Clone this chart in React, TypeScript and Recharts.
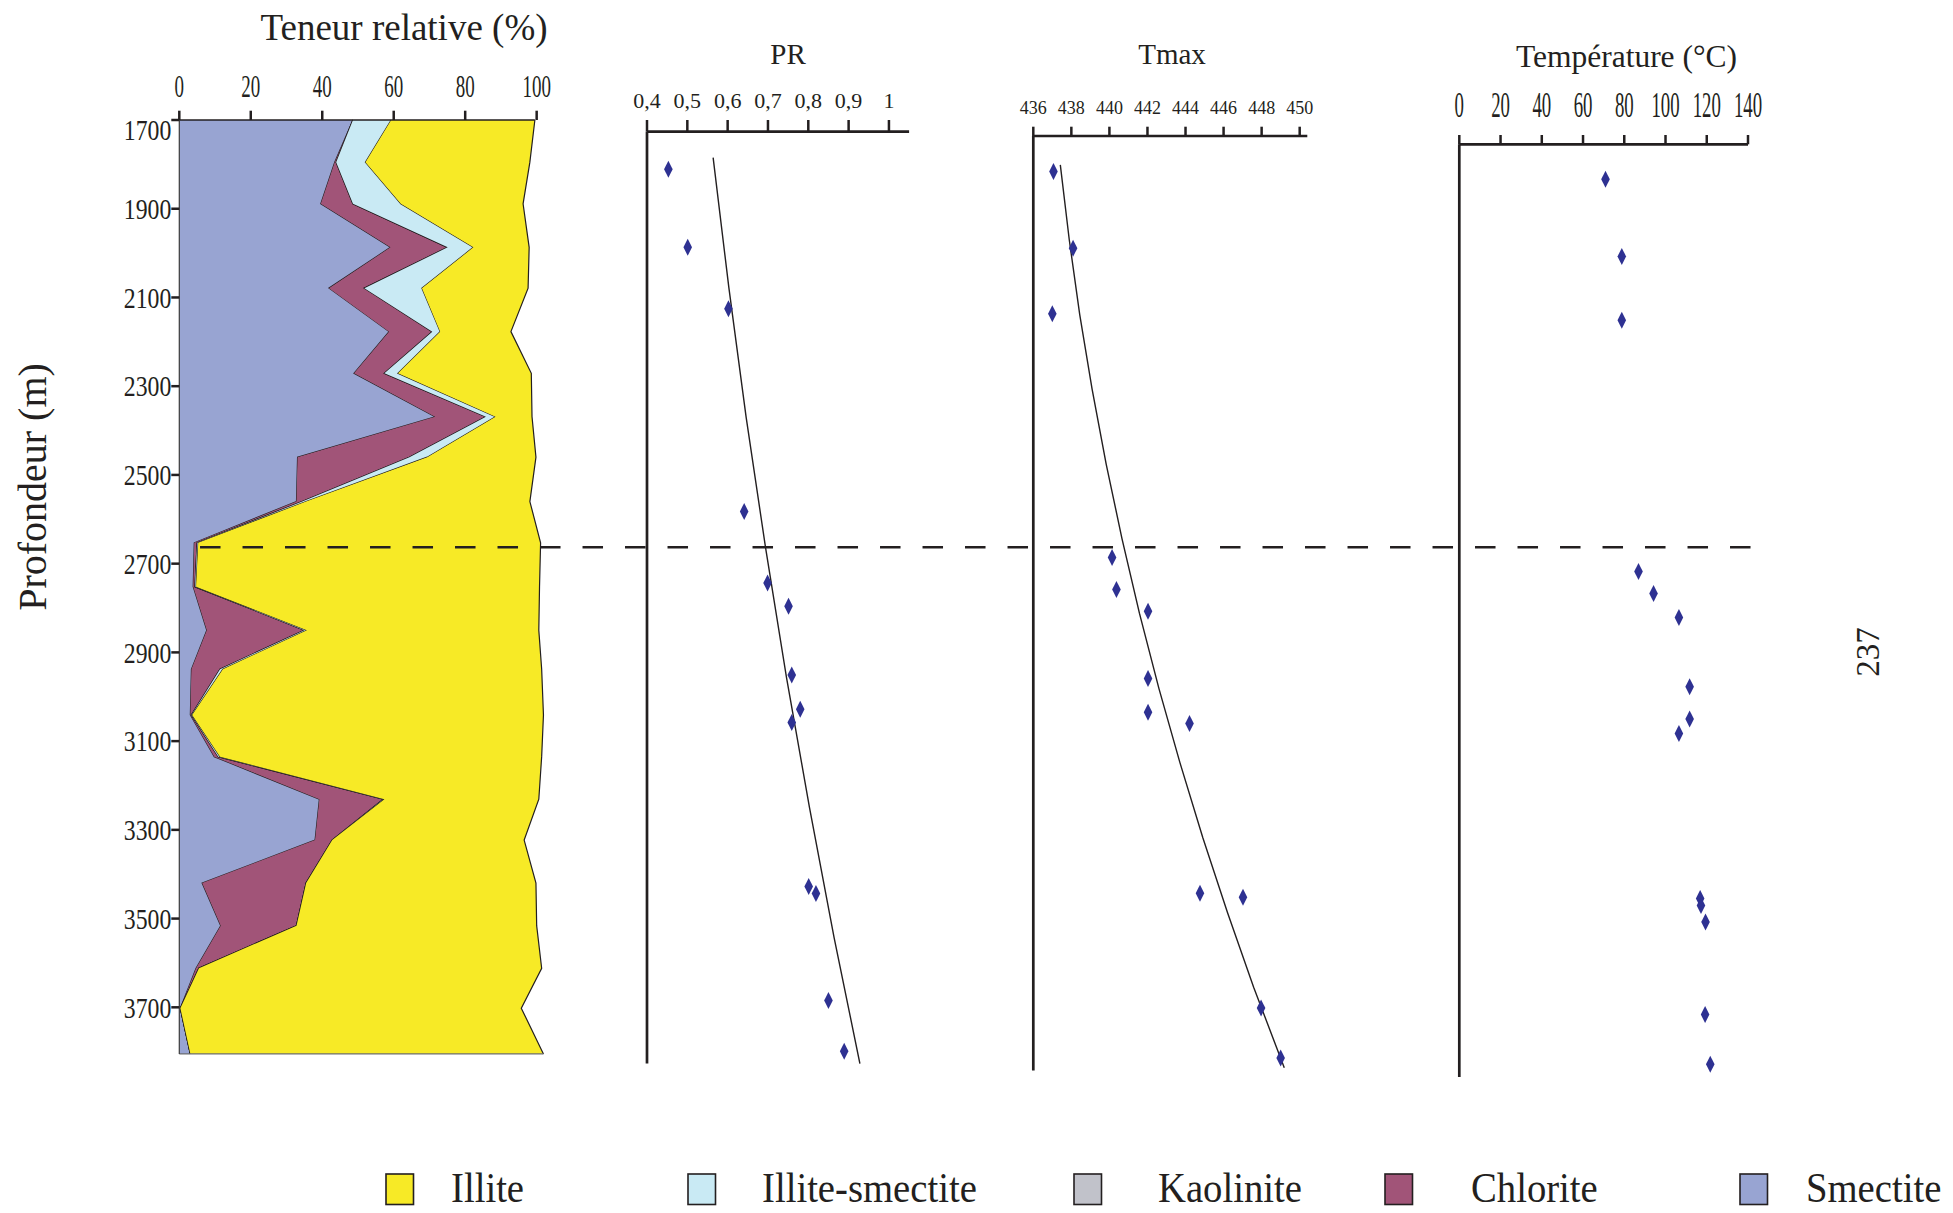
import React from 'react';
import {
  AreaChart,
  Area,
  ScatterChart,
  Scatter,
  XAxis,
  YAxis,
  ReferenceLine,
  Customized,
} from 'recharts';

const SERIF = '"Liberation Serif", "Times New Roman", serif';
const INK = '#231F20';
const MARK = '#2E3192';

// clay minerals, relative % at each sample depth (m)
const CLAY_DEPTHS = [1700, 1795, 1889, 1987, 2079, 2177, 2271, 2369, 2460, 2560, 2653, 2752, 2850, 2938, 3041, 3135, 3231, 3323, 3420, 3516, 3612, 3702, 3805];
const SMECTITE = [48.6, 43.5, 39.6, 59.1, 41.9, 58.7, 48.9, 71.6, 33.1, 32.8, 4.2, 3.9, 7.7, 3.4, 3.1, 9.8, 39.2, 38.0, 6.4, 11.6, 4.7, 0.3, 3.1];
const CHLORITE = [0, 0.4, 9.0, 16.0, 9.9, 12.1, 8.5, 14.2, 31.3, 1.6, 0.8, 0.5, 27.3, 8.0, 0.3, 1.1, 17.9, 4.8, 29.1, 21.2, 0.8, 0, 0];
const KAOLINITE = [0, 0, 0, 0, 0, 0, 0, 0, 0, 0, 0, 0, 0, 0, 0, 0, 0, 0, 0, 0, 0, 0, 0];
const ILLITE_SMECTITE = [10.7, 8.2, 13.4, 7.2, 16.1, 2.2, 3.8, 2.7, 5.0, 1.1, 0.3, 0.3, 0.7, 0.8, 0.2, 0.5, 0.3, 0, 0, 0, 0, 0, 0];
const ILLITE = [40.2, 46.0, 34.2, 15.6, 29.7, 19.8, 37.3, 10.2, 30.4, 62.6, 95.8, 96.1, 64.9, 89.2, 98.3, 90.0, 43.2, 53.7, 64.3, 67.2, 95.9, 95.4, 98.8];

// vitrinite reflectance PR
const PR_DEPTHS = [1778, 1955, 2095, 2555, 2717, 2770, 2926, 3004, 3034, 3406, 3422, 3665, 3780];
const PR_VALUES = [0.453, 0.501, 0.602, 0.641, 0.699, 0.751, 0.759, 0.78, 0.759, 0.801, 0.819, 0.85, 0.889];
const PR_FIT_DEPTHS = [1752, 2047, 2342, 2637, 2932, 3227, 3522, 3808];
const PR_FIT_VALUES = [0.564, 0.603, 0.646, 0.694, 0.746, 0.803, 0.864, 0.928];

// Rock-Eval Tmax
const TMAX_DEPTHS = [1780, 1953, 2101, 2651, 2723, 2772, 2924, 3000, 3025, 3408, 3417, 3667, 3780];
const TMAX_VALUES = [437.06, 438.09, 437.0, 440.14, 440.37, 442.03, 442.03, 442.03, 444.21, 444.76, 447.02, 447.97, 449.0];
const TMAX_FIT_DEPTHS = [1765, 1934, 2103, 2271, 2440, 2608, 2777, 2946, 3114, 3283, 3451, 3620, 3802];
const TMAX_FIT_VALUES = [437.42, 437.89, 438.44, 439.09, 439.83, 440.66, 441.58, 442.6, 443.71, 444.91, 446.2, 447.58, 449.19];

// temperature (°C)
const TEMP_DEPTHS = [1779, 1953, 2097, 2664, 2714, 2768, 2924, 2997, 3030, 3402, 3418, 3455, 3664, 3776];
const TEMP_VALUES = [70.9, 78.8, 78.8, 86.9, 94.2, 106.5, 111.7, 111.7, 106.5, 116.8, 117.2, 119.4, 119.2, 121.7];

const BOUNDARY_DEPTH = 2663;

const PCT_TICKS = [0, 20, 40, 60, 80, 100];
const DEPTH_TICKS = [1700, 1900, 2100, 2300, 2500, 2700, 2900, 3100, 3300, 3500, 3700];
const PANEL_DEPTH_TICKS = [1900, 2100, 2300, 2500, 2700, 2900, 3100, 3300, 3500, 3700];
const TEMP_DEPTH_TICKS = [1700, 1900, 2100, 2300, 2500, 2700, 2900, 3100, 3300, 3500, 3700, 3900];
const PR_TICKS = [0.4, 0.5, 0.6, 0.7, 0.8, 0.9, 1];
const TMAX_TICKS = [436, 438, 440, 442, 444, 446, 448, 450];
const TEMP_TICKS = [0, 20, 40, 60, 80, 100, 120, 140];

const CLAY_SERIES = [
  { key: 'smectite', name: 'Smectite', color: '#98A4D2', values: SMECTITE },
  { key: 'chlorite', name: 'Chlorite', color: '#A15478', values: CHLORITE },
  { key: 'kaolinite', name: 'Kaolinite', color: '#C1C2CA', values: KAOLINITE },
  { key: 'illiteSmectite', name: 'Illite-smectite', color: '#C9EAF4', values: ILLITE_SMECTITE },
  { key: 'illite', name: 'Illite', color: '#F7EA26', values: ILLITE },
];

const clayRows = CLAY_DEPTHS.map((depth, i) => {
  const row: Record<string, number> = { depth };
  CLAY_SERIES.forEach((s) => {
    row[s.key] = s.values[i];
  });
  return row;
});
const rowTotal = (i: number) => CLAY_SERIES.reduce((sum, s) => sum + s.values[i], 0);
const LAST = CLAY_DEPTHS.length - 1;

const prPoints = PR_DEPTHS.map((depth, i) => ({ depth, pr: PR_VALUES[i] }));
const prFit = PR_FIT_DEPTHS.map((depth, i) => ({ depth, pr: PR_FIT_VALUES[i] }));
const tmaxPoints = TMAX_DEPTHS.map((depth, i) => ({ depth, tmax: TMAX_VALUES[i] }));
const tmaxFit = TMAX_FIT_DEPTHS.map((depth, i) => ({ depth, tmax: TMAX_FIT_VALUES[i] }));
const tempPoints = TEMP_DEPTHS.map((depth, i) => ({ depth, temp: TEMP_VALUES[i] }));

function TopTick(props: any) {
  const { x, y, payload, fs, sx = 1, fmt } = props;
  const label = fmt ? fmt(payload.value) : String(payload.value);
  return (
    <text
      transform={`translate(${x},${y}) scale(${sx},1)`}
      textAnchor="middle"
      fontSize={fs}
      fontFamily={SERIF}
      fill={INK}
    >
      {label}
    </text>
  );
}

// depth labels: the top one sits a little under its tick, as in the figure
function DepthTick(props: any) {
  const { x, y, payload } = props;
  const shift = payload.value === DEPTH_TICKS[0] ? 10 : 0;
  return (
    <text
      transform={`translate(${x},${y + shift}) scale(0.82,1)`}
      dy="0.355em"
      textAnchor="end"
      fontSize={29}
      fontFamily={SERIF}
      fill={INK}
    >
      {payload.value}
    </text>
  );
}

const diamond = (p: any) => {
  const { cx, cy } = p;
  if (cx == null || cy == null) return <g />;
  return (
    <path
      d={`M${cx},${cy - 8.5} L${cx + 4.3},${cy} L${cx},${cy + 8.5} L${cx - 4.3},${cy} Z`}
      fill={MARK}
    />
  );
};
const noShape = () => <g />;

const axisLine = { stroke: INK, strokeWidth: 2.7 };
const tickLine = { stroke: INK, strokeWidth: 2.5 };

const LEGEND_BOX_X = [386, 688, 1074, 1385, 1740];
const LEGEND_TEXT_X = [451, 762, 1158, 1471, 1806];

function Annotations() {
  const legendItems = [...CLAY_SERIES].reverse();
  return (
    <g fontFamily={SERIF} fill={INK}>
      <text x={404} y={40} fontSize={37} textAnchor="middle">
        Teneur relative (%)
      </text>
      <text transform="translate(45.5,487) rotate(-90)" fontSize={40} textAnchor="middle">
        Profondeur (m)
      </text>
      <text x={788} y={64} fontSize={29} textAnchor="middle">
        PR
      </text>
      <text x={1172} y={64} fontSize={29} textAnchor="middle">
        Tmax
      </text>
      <text x={1626.5} y={66.7} fontSize={31.5} textAnchor="middle">
        Température (°C)
      </text>
      <text transform="translate(1879,652) rotate(-90)" fontSize={33} textAnchor="middle">
        237
      </text>
      {legendItems.map((s, i) => (
        <g key={s.key}>
          <rect
            x={LEGEND_BOX_X[i]}
            y={1174}
            width={27.5}
            height={30.5}
            fill={s.color}
            stroke={INK}
            strokeWidth={1.6}
          />
          <text transform={`translate(${LEGEND_TEXT_X[i]},1202) scale(0.9,1)`} fontSize={43}>
            {s.name}
          </text>
        </g>
      ))}
    </g>
  );
}

// the clay panel's svg spans the whole page so that the boundary line and
// the figure texts can run across the other panels
function ClayPanel() {
  return (
    <AreaChart
      layout="vertical"
      width={1953}
      height={1213}
      data={clayRows}
      margin={{ top: 0, right: 1407.4, bottom: 159.1, left: 0 }}
    >
      <XAxis
        type="number"
        orientation="top"
        height={120}
        domain={[0, 102.5]}
        ticks={PCT_TICKS}
        interval={0}
        tickSize={9.3}
        tickMargin={13.4}
        axisLine={false}
        tickLine={tickLine}
        tick={<TopTick fs={30.6} sx={0.62} />}
      />
      <YAxis
        type="number"
        dataKey="depth"
        domain={[1700, 3805]}
        ticks={DEPTH_TICKS}
        interval={0}
        width={179.3}
        tickSize={8}
        tickMargin={0}
        axisLine={{ stroke: '#3a3a3a', strokeWidth: 1.2 }}
        tickLine={tickLine}
        tick={<DepthTick />}
      />
      {CLAY_SERIES.map((s) => (
        <Area
          key={s.key}
          dataKey={s.key}
          name={s.name}
          stackId="clay"
          type="linear"
          fill={s.color}
          fillOpacity={1}
          stroke={INK}
          strokeWidth={1.2}
          dot={false}
          activeDot={false}
          isAnimationActive={false}
        />
      ))}
      <ReferenceLine
        segment={[{ x: 0, y: CLAY_DEPTHS[0] }, { x: rowTotal(0), y: CLAY_DEPTHS[0] }]}
        stroke={INK}
        strokeWidth={1.4}
        ifOverflow="visible"
      />
      <ReferenceLine
        segment={[{ x: 0, y: CLAY_DEPTHS[LAST] }, { x: rowTotal(LAST), y: CLAY_DEPTHS[LAST] }]}
        stroke="#6d6e71"
        strokeWidth={1.4}
        ifOverflow="visible"
      />
      <ReferenceLine
        segment={[{ x: 5.8, y: BOUNDARY_DEPTH }, { x: 441.4, y: BOUNDARY_DEPTH }]}
        stroke={INK}
        strokeWidth={2.7}
        strokeDasharray="20.5 22"
        ifOverflow="visible"
      />
      <Customized component={Annotations} />
    </AreaChart>
  );
}

function PrPanel() {
  return (
    <ScatterChart width={330} height={1100} margin={{ top: 0, right: 20.9, bottom: 36.4, left: 0 }}>
      <XAxis
        type="number"
        dataKey="pr"
        orientation="top"
        height={131.7}
        domain={[0.4, 1.05]}
        ticks={PR_TICKS}
        interval={0}
        tickSize={11.7}
        tickMargin={11.7}
        axisLine={axisLine}
        tickLine={tickLine}
        tick={<TopTick fs={22} fmt={(v: number) => String(v).replace('.', ',')} />}
      />
      <YAxis
        type="number"
        dataKey="depth"
        reversed
        domain={[1693, 3808]}
        ticks={PANEL_DEPTH_TICKS}
        interval={0}
        width={47}
        tickSize={6.7}
        axisLine={axisLine}
        tickLine={tickLine}
        tick={false}
      />
      <Scatter data={prFit} shape={noShape} line={{ stroke: INK, strokeWidth: 1.4 }} isAnimationActive={false} />
      <Scatter data={prPoints} shape={diamond} fill={MARK} isAnimationActive={false} />
    </ScatterChart>
  );
}

function TmaxPanel() {
  return (
    <ScatterChart width={340} height={1100} margin={{ top: 0, right: 32.7, bottom: 29.5, left: 0 }}>
      <XAxis
        type="number"
        dataKey="tmax"
        orientation="top"
        height={136}
        domain={[436, 450.4]}
        ticks={TMAX_TICKS}
        interval={0}
        tickSize={9.3}
        tickMargin={12.7}
        axisLine={axisLine}
        tickLine={tickLine}
        tick={<TopTick fs={18} />}
      />
      <YAxis
        type="number"
        dataKey="depth"
        reversed
        domain={[1700, 3808]}
        ticks={PANEL_DEPTH_TICKS}
        interval={0}
        width={33.3}
        tickSize={8}
        axisLine={axisLine}
        tickLine={tickLine}
        tick={false}
      />
      <Scatter data={tmaxFit} shape={noShape} line={{ stroke: INK, strokeWidth: 1.4 }} isAnimationActive={false} />
      <Scatter data={tmaxPoints} shape={diamond} fill={MARK} isAnimationActive={false} />
    </ScatterChart>
  );
}

function TempPanel() {
  return (
    <ScatterChart width={400} height={1150} margin={{ top: 0, right: 52, bottom: 30.9, left: 0 }}>
      <XAxis
        type="number"
        dataKey="temp"
        orientation="top"
        height={144.3}
        domain={[0, 140]}
        ticks={TEMP_TICKS}
        interval={0}
        tickSize={9.3}
        tickMargin={17.7}
        axisLine={axisLine}
        tickLine={tickLine}
        tick={<TopTick fs={35.5} sx={0.53} />}
      />
      <YAxis
        type="number"
        dataKey="depth"
        reversed
        domain={[1700, 3900]}
        ticks={TEMP_DEPTH_TICKS}
        interval={0}
        width={59.3}
        tickSize={6.7}
        axisLine={false}
        tickLine={tickLine}
        tick={false}
      />
      <ReferenceLine
        segment={[{ x: 0, y: 1700 }, { x: 0, y: 3805 }]}
        stroke={INK}
        strokeWidth={2.7}
        ifOverflow="visible"
      />
      <Scatter data={tempPoints} shape={diamond} fill={MARK} isAnimationActive={false} />
    </ScatterChart>
  );
}

export default function App() {
  return (
    <div
      style={{
        position: 'absolute',
        left: 0,
        top: 0,
        width: 1953,
        height: 1213,
        background: '#fff',
        overflow: 'hidden',
      }}
    >
      <div style={{ position: 'absolute', left: 0, top: 0 }}>
        <ClayPanel />
      </div>
      <div style={{ position: 'absolute', left: 600, top: 0 }}>
        <PrPanel />
      </div>
      <div style={{ position: 'absolute', left: 1000, top: 0 }}>
        <TmaxPanel />
      </div>
      <div style={{ position: 'absolute', left: 1400, top: 0 }}>
        <TempPanel />
      </div>
    </div>
  );
}
